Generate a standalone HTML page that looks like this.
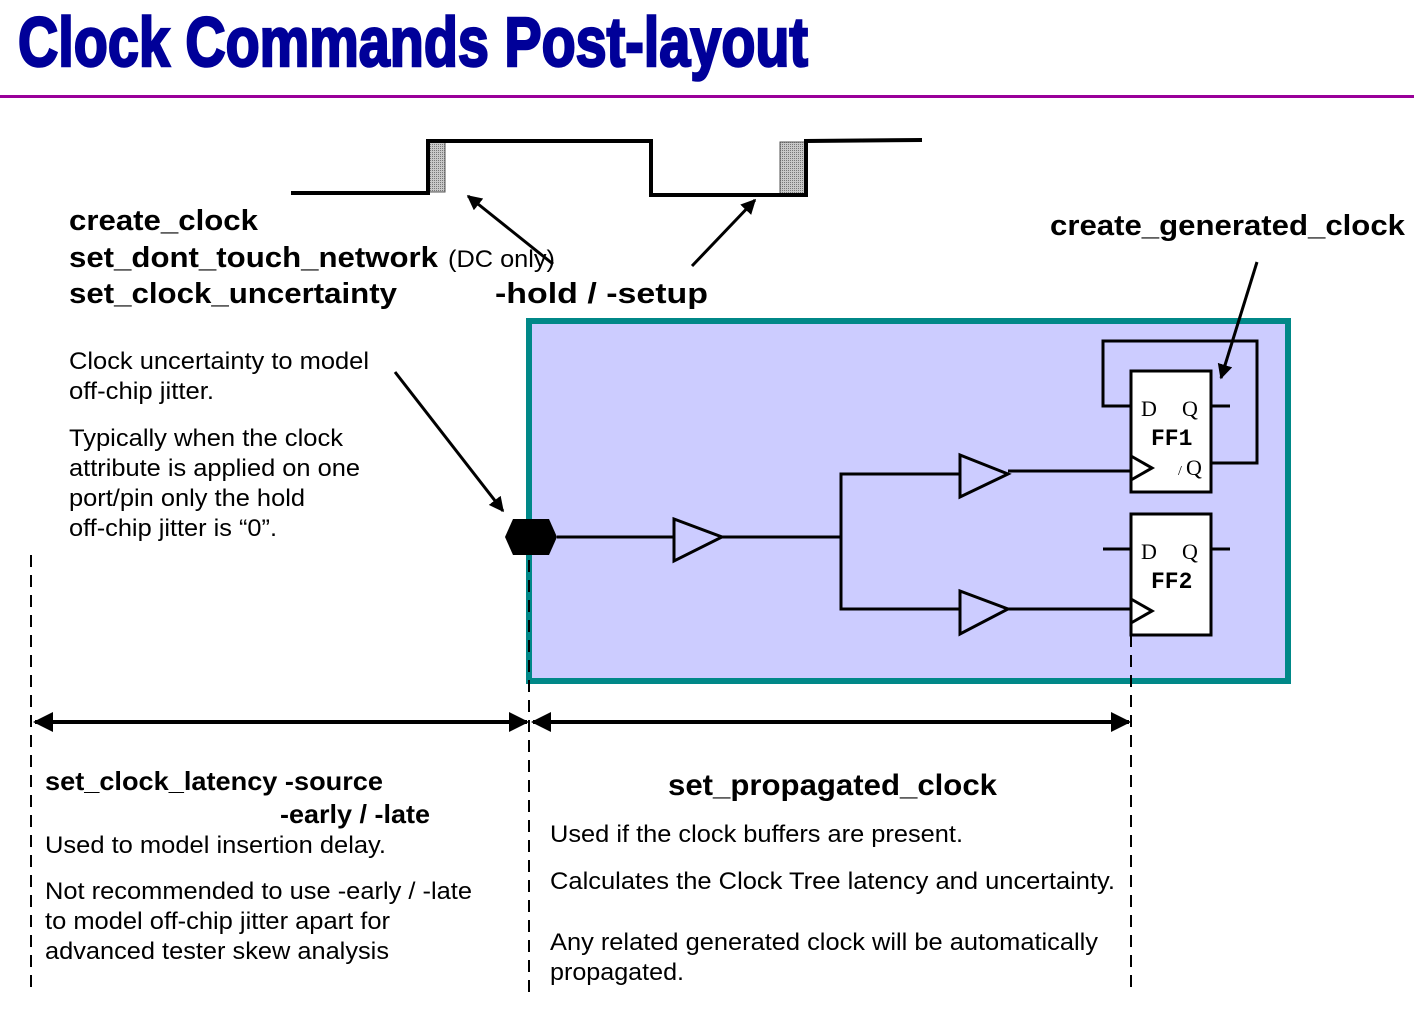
<!DOCTYPE html>
<html><head><meta charset="utf-8"><style>
html,body{margin:0;padding:0;background:#fff;}
svg{display:block;font-family:"Liberation Sans",Arial,sans-serif;}
</style></head><body>
<svg width="1414" height="1011" viewBox="0 0 1414 1011" xmlns="http://www.w3.org/2000/svg">
<defs>
<pattern id="hatch" width="2" height="2" patternUnits="userSpaceOnUse"><rect width="2" height="2" fill="#c8c8c8"/><rect width="1" height="1" fill="#777"/></pattern>
<marker id="ah" viewBox="0 0 10 10" refX="9" refY="5" markerWidth="5" markerHeight="5" orient="auto-start-reverse"><path d="M0,0 L10,5 L0,10 z" fill="#000"/></marker>
</defs>
<text x="18" y="66" font-family="'Liberation Sans Narrow','Liberation Sans',sans-serif" font-weight="bold" font-size="70" fill="#000099" textLength="790" lengthAdjust="spacingAndGlyphs" stroke="#000099" stroke-width="2.5">Clock Commands Post-layout</text>
<rect x="0" y="95" width="1414" height="3" fill="#990099"/>

<rect x="428" y="142" width="17" height="50" fill="url(#hatch)" stroke="#555" stroke-width="1"/>
<rect x="780" y="142" width="26" height="52" fill="url(#hatch)" stroke="#555" stroke-width="1"/>
<polyline points="291,193 428,193 428,141 651,141 651,195 806,195 806,141 922,140" fill="none" stroke="#000" stroke-width="4"/>
<line x1="553" y1="264" x2="468" y2="196" stroke="#000" stroke-width="3" marker-end="url(#ah)"/>
<line x1="692" y1="266" x2="755" y2="200" stroke="#000" stroke-width="3" marker-end="url(#ah)"/>

<g font-weight="bold" font-size="29" fill="#000" lengthAdjust="spacingAndGlyphs">
<text x="69" y="230" textLength="189" lengthAdjust="spacingAndGlyphs">create_clock</text>
<text x="69" y="267" textLength="369" lengthAdjust="spacingAndGlyphs">set_dont_touch_network</text>
<text x="448" y="267" font-weight="normal" font-size="24" textLength="107" lengthAdjust="spacingAndGlyphs">(DC only)</text>
<text x="69" y="303" textLength="328" lengthAdjust="spacingAndGlyphs">set_clock_uncertainty</text>
<text x="495" y="303" textLength="213" lengthAdjust="spacingAndGlyphs">-hold  /  -setup</text>
<text x="1050" y="235" textLength="355" lengthAdjust="spacingAndGlyphs">create_generated_clock</text>
</g>
<g font-size="24" fill="#000">
<text x="69" y="369" textLength="300" lengthAdjust="spacingAndGlyphs">Clock uncertainty to model</text>
<text x="69" y="399" textLength="145" lengthAdjust="spacingAndGlyphs">off-chip jitter.</text>
<text x="69" y="446" textLength="274" lengthAdjust="spacingAndGlyphs">Typically when the clock</text>
<text x="69" y="476" textLength="291" lengthAdjust="spacingAndGlyphs">attribute is applied on one</text>
<text x="69" y="506" textLength="236" lengthAdjust="spacingAndGlyphs">port/pin only the hold</text>
<text x="69" y="536" textLength="208" lengthAdjust="spacingAndGlyphs">off-chip jitter is “0”.</text>
</g>
<line x1="395" y1="372" x2="503" y2="511" stroke="#000" stroke-width="3" marker-end="url(#ah)"/>

<rect x="529" y="321" width="759" height="360" fill="#ccccff" stroke="#008888" stroke-width="6"/>
<line x1="1257" y1="262" x2="1221" y2="378" stroke="#000" stroke-width="3" marker-end="url(#ah)"/>

<polygon points="513,519 549,519 557,537 549,555 513,555 505,537" fill="#000"/>
<g stroke="#000" stroke-width="3" fill="none">
<line x1="557" y1="537" x2="674" y2="537"/>
<polygon points="674,519 722,537 674,561"/>
<line x1="722" y1="537" x2="841" y2="537"/>
<polyline points="960,474 841,474 841,609 960,609"/>
<polygon points="960,455 1008,474 960,497"/>
<polygon points="960,591 1008,609 960,634"/>
<line x1="1008" y1="471" x2="1131" y2="471"/>
<line x1="1008" y1="609" x2="1131" y2="609"/>
<polyline points="1131,406 1103,406 1103,341 1257,341 1257,463 1211,463"/>
<line x1="1211" y1="406" x2="1230" y2="406"/>
<line x1="1103" y1="549" x2="1131" y2="549"/>
<line x1="1211" y1="549" x2="1230" y2="549"/>
</g>
<rect x="1131" y="371" width="80" height="121" fill="#fff" stroke="#000" stroke-width="3"/>
<rect x="1131" y="514" width="80" height="121" fill="#fff" stroke="#000" stroke-width="3"/>
<polyline points="1131,456 1152,468 1131,480" fill="none" stroke="#000" stroke-width="3"/>
<polyline points="1131,599 1152,611 1131,623" fill="none" stroke="#000" stroke-width="3"/>
<g font-family="'Liberation Serif',serif" font-size="22" fill="#000">
<text x="1141" y="416">D</text><text x="1182" y="416">Q</text>
<text x="1141" y="559">D</text><text x="1182" y="559">Q</text>
<text x="1186" y="475">Q</text><text x="1178" y="475" font-size="14">/</text>
</g>
<g font-family="'Liberation Mono','DejaVu Sans Mono',monospace" font-weight="bold" font-size="23" fill="#000">
<text x="1151" y="445">FF1</text><text x="1151" y="588">FF2</text>
</g>

<g stroke="#000" stroke-width="2" stroke-dasharray="12,8">
<line x1="31" y1="555" x2="31" y2="990"/>
<line x1="529" y1="560" x2="529" y2="995"/>
<line x1="1131" y1="635" x2="1131" y2="995"/>
</g>
<line x1="35" y1="722" x2="527" y2="722" stroke="#000" stroke-width="4" marker-start="url(#ah)" marker-end="url(#ah)"/>
<line x1="533" y1="722" x2="1129" y2="722" stroke="#000" stroke-width="4" marker-start="url(#ah)" marker-end="url(#ah)"/>

<g font-weight="bold" font-size="26" fill="#000">
<text x="45" y="790" textLength="338" lengthAdjust="spacingAndGlyphs">set_clock_latency -source</text>
<text x="280" y="823" textLength="150" lengthAdjust="spacingAndGlyphs">-early / -late</text>
<text x="668" y="795" font-size="30" textLength="329" lengthAdjust="spacingAndGlyphs">set_propagated_clock</text>
</g>
<g font-size="24" fill="#000">
<text x="45" y="853" textLength="341" lengthAdjust="spacingAndGlyphs">Used to model insertion delay.</text>
<text x="45" y="899" textLength="427" lengthAdjust="spacingAndGlyphs">Not recommended to use -early / -late</text>
<text x="45" y="929" textLength="345" lengthAdjust="spacingAndGlyphs">to model off-chip jitter apart for</text>
<text x="45" y="959" textLength="344" lengthAdjust="spacingAndGlyphs">advanced tester skew analysis</text>
<text x="550" y="842" textLength="413" lengthAdjust="spacingAndGlyphs">Used if the clock buffers are present.</text>
<text x="550" y="889" textLength="565" lengthAdjust="spacingAndGlyphs">Calculates the Clock Tree latency and uncertainty.</text>
<text x="550" y="950" textLength="548" lengthAdjust="spacingAndGlyphs">Any related generated clock will be automatically</text>
<text x="550" y="980" textLength="134" lengthAdjust="spacingAndGlyphs">propagated.</text>
</g>
</svg>
</body></html>
